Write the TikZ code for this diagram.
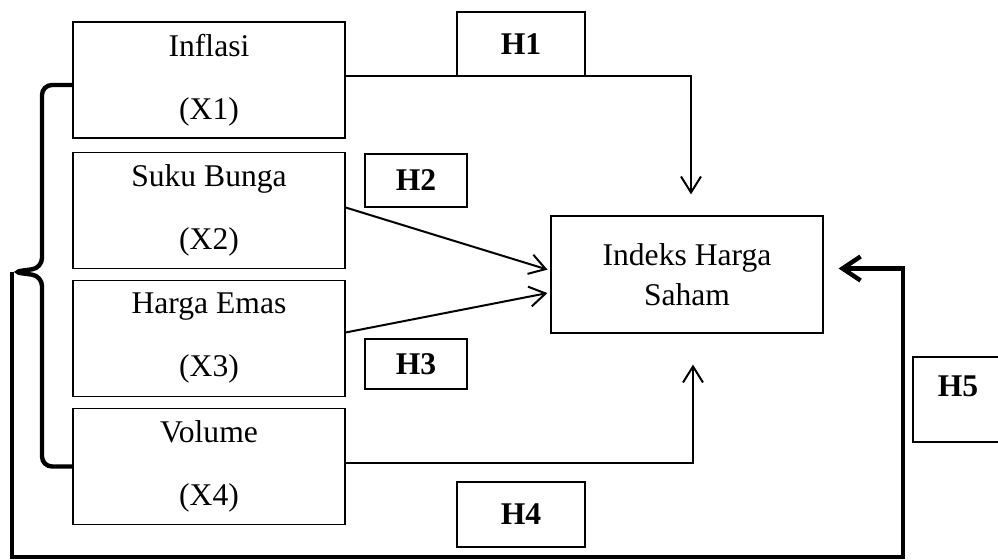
\documentclass[tikz,border=0pt]{standalone}
\usepackage{fontspec}
\setmainfont{Liberation Serif}
\usetikzlibrary{arrows.meta, calc}

\tikzset{
    varbox/.style={draw, line width=0.6pt, minimum width=136pt, minimum height=58pt,
        align=center, font=\fontsize{15.8}{31.5}\selectfont},
    hypbox/.style={draw, fill=white, line width=0.6pt, font=\fontsize{15.8}{19}\selectfont\bfseries},
    linkarrow/.style={line width=1pt, -{Straight Barb[length=8pt,width=10pt]}},
    loopline/.style={line width=2.2pt},
}

\begin{document}
\begin{tikzpicture}[x=0.5pt, y=-0.5pt]
    \useasboundingbox (0,0) rectangle (998,560);

    % Variabel bebas
    \node[varbox] (infl) at (209,80) {Inflasi\\(X1)};
    \node[varbox] (suku) at (209,210.5) {Suku Bunga\\(X2)};
    \node[varbox] (emas) at (209,338.5) {Harga Emas\\(X3)};
    \node[varbox] (vol) at (209,466.5) {Volume\\(X4)};

    % Variabel terikat
    \node[varbox, minimum height=58.5pt, font=\fontsize{15.8}{20}\selectfont] (ihs) at (687,274.5) {Indeks Harga\\Saham};

    % Hipotesis
    \node[hypbox, minimum width=64pt, minimum height=32pt] (h1) at (521,44) {H1};
    \node[hypbox, minimum width=51pt, minimum height=26.5pt] (h2) at (416,180.5) {H2};
    \node[hypbox, minimum width=51pt, minimum height=25pt] (h3) at (416,364) {H3};
    \node[hypbox, minimum width=64pt, minimum height=32.5pt] (h4) at (521,514.5) {H4};
    \node[hypbox, minimum width=45pt, minimum height=42.5pt, text depth=13pt] (h5) at (958,399.5) {H5};

    % Pengaruh parsial
    \draw[linkarrow, shorten >=10.5pt] ($(infl.east)+(0,-4)$) -| ($(ihs.north)+(4,0)$);
    \draw[linkarrow, shorten >=1.5pt] ($(suku.east)+(0,-3)$) -- ($(ihs.west)+(0,-4)$);
    \draw[linkarrow, shorten >=1.5pt] ($(emas.east)+(0,-6)$) -- ($(ihs.west)+(0,18)$);
    \draw[linkarrow, shorten >=15.5pt] ($(vol.east)+(0,-3)$) -| ($(ihs.south)+(6,0)$);

    % Pengaruh simultan
    \coordinate (cusp) at (12,272);
    \coordinate (loopR) at (903,557);
    \draw[loopline, rounded corners=5pt] ($(infl.west)+(0,5)$) -| (42,268) -- (cusp) -- (42,276) |- (vol.west);
    \draw[loopline, -{Straight Barb[length=9pt,width=12pt]}, shorten >=7.5pt]
        (cusp) |- (loopR) |- ($(ihs.east)+(0,-6)$);
\end{tikzpicture}
\end{document}
